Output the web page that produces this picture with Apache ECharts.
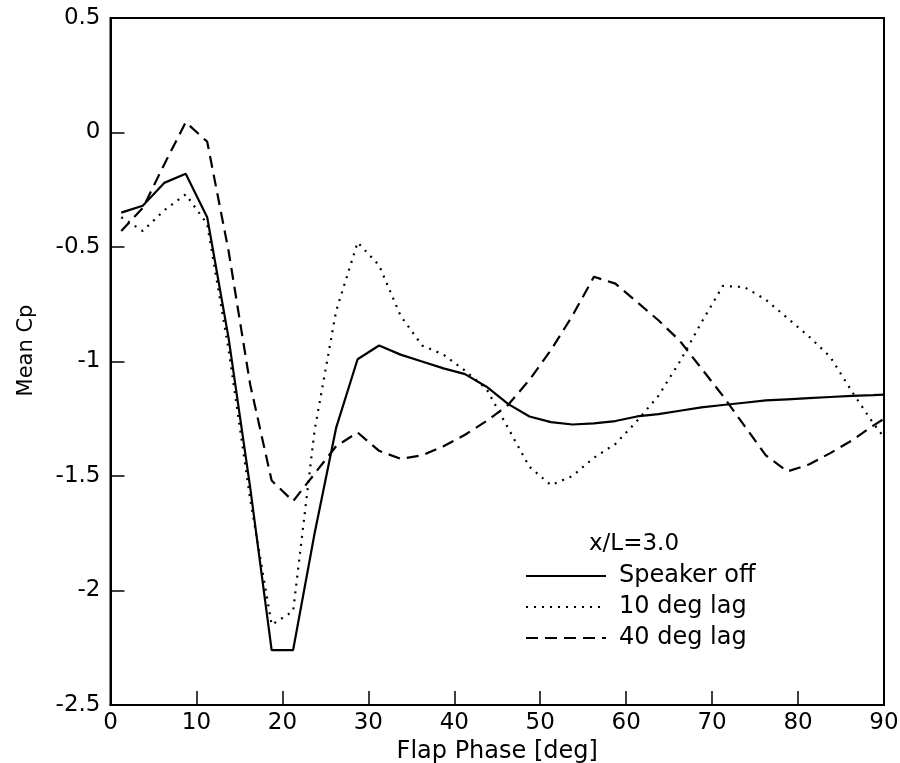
<!DOCTYPE html>
<html>
<head>
<meta charset="utf-8">
<script src="https://cdn.jsdelivr.net/npm/echarts@6/dist/echarts.min.js"></script>
<style>html,body{margin:0;padding:0;background:#fff;}#chart{width:900px;height:763px;}</style>
</head>
<body>
<div id="chart"></div>
<script>
// Flap phase (deg)
const phase = [1.25, 3.75, 6.25, 8.75, 11.25, 13.75, 16.25, 18.75, 21.25, 23.75, 26.25, 28.75, 31.25, 33.75, 36.25, 38.75, 41.25, 43.75, 46.25, 48.75, 51.25, 53.75, 56.25, 58.75, 61.25, 63.75, 66.25, 68.75, 71.25, 73.75, 76.25, 78.75, 81.25, 83.75, 86.25, 88.75, 90];
const speakerOff = [-0.35, -0.32, -0.22, -0.18, -0.37, -0.9, -1.55, -2.26, -2.26, -1.75, -1.29, -0.99, -0.93, -0.97, -1.0, -1.03, -1.055, -1.11, -1.185, -1.24, -1.265, -1.275, -1.27, -1.26, -1.24, -1.23, -1.215, -1.2, -1.19, -1.18, -1.17, -1.165, -1.16, -1.155, -1.15, -1.147, -1.145];
const lag10 = [-0.37, -0.43, -0.34, -0.27, -0.40, -0.95, -1.6, -2.15, -2.09, -1.3, -0.78, -0.48, -0.58, -0.8, -0.93, -0.97, -1.04, -1.12, -1.29, -1.46, -1.54, -1.5, -1.42, -1.36, -1.26, -1.15, -1.0, -0.83, -0.67, -0.675, -0.73, -0.81, -0.89, -0.98, -1.13, -1.27, -1.33];
const lag40 = [-0.43, -0.33, -0.14, 0.045, -0.04, -0.52, -1.1, -1.52, -1.61, -1.49, -1.37, -1.31, -1.39, -1.425, -1.41, -1.37, -1.32, -1.26, -1.19, -1.08, -0.95, -0.8, -0.63, -0.66, -0.74, -0.82, -0.91, -1.03, -1.15, -1.28, -1.41, -1.48, -1.45, -1.4, -1.345, -1.28, -1.25];
const seriesNames = ['Speaker off', '10 deg lag', '40 deg lag'];
const legendTitle = 'x/L=3.0';
const xName = 'Flap Phase [deg]';
const yName = 'Mean Cp';

const pairs = ys => phase.map((x, i) => [x, ys[i]]);
const FONT = 'DejaVu Sans';

const chart = echarts.init(document.getElementById('chart'), null, {renderer: 'canvas'});
chart.setOption({
  backgroundColor: '#fff',
  animation: false,
  title: {
    text: legendTitle, left: 584, top: 528,
    textStyle: {fontFamily: FONT, fontSize: 23, fontWeight: 'normal', color: '#000'}
  },
  legend: {
    orient: 'vertical', left: 520, top: 559,
    itemWidth: 80, itemHeight: 20, itemGap: 7,
    data: seriesNames,
    itemStyle: {color: 'rgba(0,0,0,0)', borderWidth: 0, opacity: 0},
    textStyle: {fontFamily: FONT, fontSize: 24, color: '#000', padding: [0, 0, 0, 8]}
  },
  grid: {left: 110.5, right: 16, top: 18, bottom: 58, show: true, borderColor: '#000', borderWidth: 2,
         backgroundColor: 'transparent', outerBoundsMode: 'none', containLabel: false},
  xAxis: {
    type: 'value', min: 0, max: 90, interval: 10,
    name: xName, nameLocation: 'middle', nameGap: 32,
    nameTextStyle: {fontFamily: FONT, fontSize: 24, color: '#000'},
    axisLine: {show: true, onZero: false, lineStyle: {color: '#000', width: 2}},
    axisTick: {show: true, inside: true, length: 14, lineStyle: {color: '#000', width: 1.5}},
    axisLabel: {fontFamily: FONT, fontSize: 23, color: '#000', margin: 7},
    splitLine: {show: false}
  },
  yAxis: {
    type: 'value', min: -2.5, max: 0.5, interval: 0.5,
    name: yName, nameLocation: 'middle', nameGap: 73, nameRotate: 90,
    nameTextStyle: {fontFamily: FONT, fontSize: 21, color: '#000', padding: [0, 0, 0, 22]},
    axisLine: {show: true, onZero: false, lineStyle: {color: '#000', width: 2}},
    axisTick: {show: true, inside: true, length: 14, lineStyle: {color: '#000', width: 1.5}},
    axisLabel: {fontFamily: FONT, fontSize: 23, color: '#000', margin: 10},
    splitLine: {show: false}
  },
  series: [
    {name: seriesNames[0], type: 'line', data: pairs(speakerOff), symbol: 'none',
     lineStyle: {color: '#000', width: 2.2, type: 'solid'}, itemStyle: {color: '#000'}},
    {name: seriesNames[1], type: 'line', data: pairs(lag10), symbol: 'none',
     lineStyle: {color: '#000', width: 2.2, type: [2, 6]}, itemStyle: {color: '#000'}},
    {name: seriesNames[2], type: 'line', data: pairs(lag40), symbol: 'none',
     lineStyle: {color: '#000', width: 2.2, type: [12, 7]}, itemStyle: {color: '#000'}}
  ]
});
</script>
</body>
</html>
